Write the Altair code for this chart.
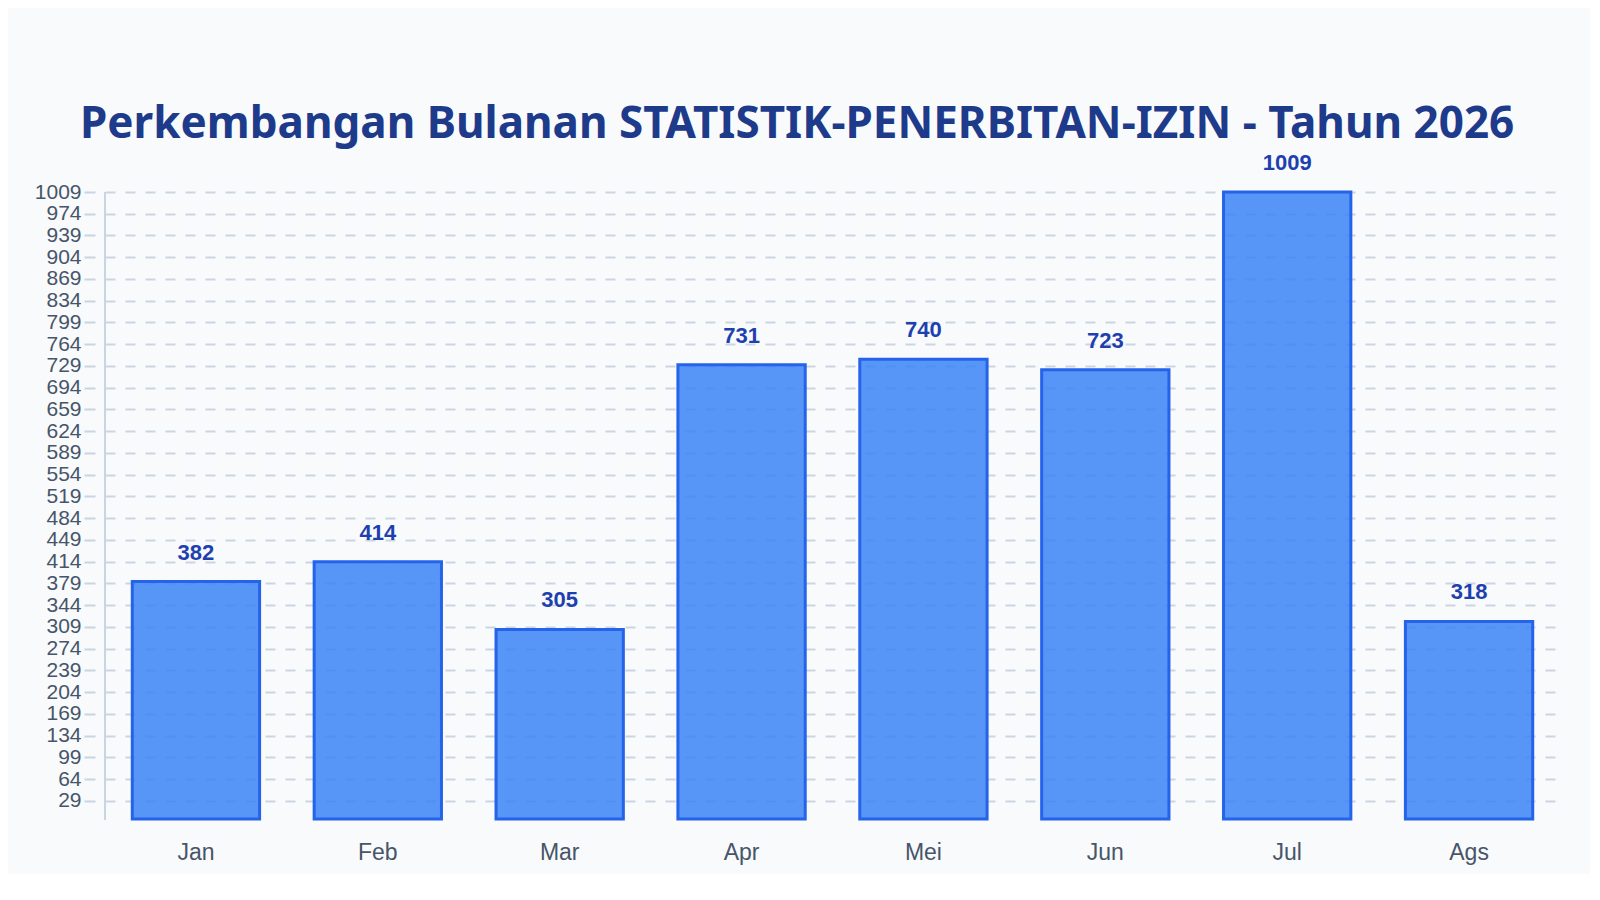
import altair as alt
import pandas as pd

# Monthly permit issuance counts, 2026
bulan = ["Jan", "Feb", "Mar", "Apr", "Mei", "Jun", "Jul", "Ags"]
jumlah = [382, 414, 305, 731, 740, 723, 1009, 318]
y_ticks = list(range(29, 1010, 35))

df = pd.DataFrame({"Bulan": bulan, "Jumlah": jumlah})

W, H = 1455, 627

base = alt.Chart(df).encode(
    x=alt.X("Bulan:N", sort=bulan, title=None,
            scale=alt.Scale(paddingInner=0.3, paddingOuter=0.15),
            axis=alt.Axis(labelAngle=0, labelFont="Liberation Sans", labelFontSize=23,
                          labelColor="#475569", ticks=False, domain=False,
                          labelPadding=22, grid=False)),
    y=alt.Y("Jumlah:Q", title=None,
            scale=alt.Scale(domain=[0, 1009], nice=False, zero=True),
            axis=alt.Axis(values=y_ticks, format="d", labelOverlap=False,
                          labelFont="Liberation Sans", labelFontSize=21,
                          labelColor="#475569", labelPadding=3, tickSize=11,
                          tickColor="#cbd5e1", tickWidth=2, domain=False, offset=10,
                          grid=True, gridColor="#cbd5e1", gridDash=[10, 10], gridWidth=2)),
)

bars = base.mark_bar(color="#3b82f6", fillOpacity=0.85, stroke="#2563eb", strokeWidth=3)

labels = base.mark_text(font="Liberation Sans", fontSize=22, fontWeight="bold",
                        color="#1e40af", baseline="alphabetic", dy=-22).encode(
    text="Jumlah:Q"
)

axis_line = alt.Chart(df).mark_rule(color="#cbd5e1", strokeWidth=2).encode(
    x=alt.value(0), y=alt.value(0), y2=alt.value(H + 1)
)

chart = alt.layer(axis_line, bars, labels).properties(
    width=W,
    height=H,
    title=alt.TitleParams(
        "Perkembangan Bulanan STATISTIK-PENERBITAN-IZIN - Tahun 2026",
        font="Noto Sans", fontSize=44, fontWeight="bold", color="#1e3a8a",
        anchor="middle", frame="bounds", offset=5,
    ),
    background="#f8fafc",
    padding={"left": 26, "top": 95, "right": 30, "bottom": 10},
).configure_view(stroke=None)

chart.save("out.html", embed_options={"renderer": "svg", "actions": False})
